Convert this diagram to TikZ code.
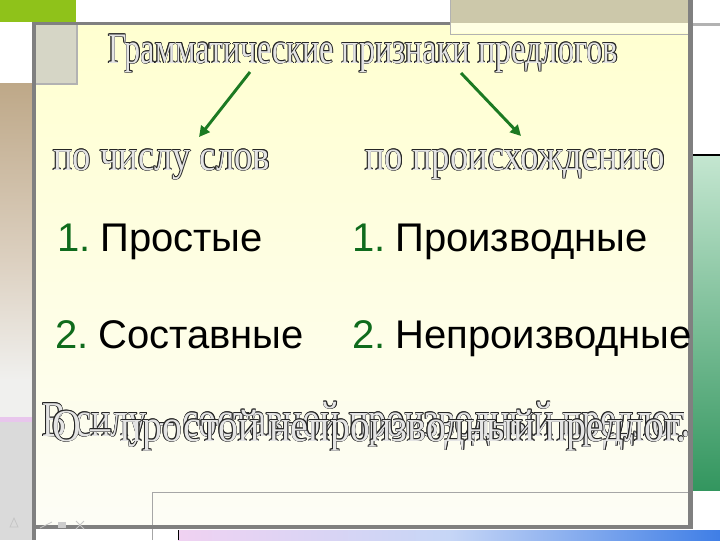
\documentclass[tikz,border=0pt]{standalone}
\usepackage{fontspec}
\setmainfont{Liberation Serif}
\newfontfamily\sansf{Liberation Sans}
\usetikzlibrary{arrows.meta}
\definecolor{panelTop}{HTML}{FFFFD0}
\definecolor{panelBot}{HTML}{FDFDF6}
\definecolor{greenbar}{HTML}{8FC21A}
\definecolor{tanbox}{HTML}{CCC8AA}
\definecolor{sq}{HTML}{D6D6C6}
\definecolor{frame}{HTML}{808080}
\definecolor{tanL}{HTML}{BEA888}
\definecolor{tanM}{HTML}{DCD0C0}
\definecolor{stripL}{HTML}{F0F0EE}
\definecolor{pinkL}{HTML}{E8C6EC}
\definecolor{grayL}{HTML}{DADADA}
\definecolor{mintTop}{HTML}{C4E6D0}
\definecolor{mintBot}{HTML}{33965F}
\definecolor{barL}{HTML}{F0D2F2}
\definecolor{barM}{HTML}{C6D6F6}
\definecolor{barR}{HTML}{3F7EE6}
\definecolor{arrowgreen}{HTML}{1C7A22}
\definecolor{numgreen}{HTML}{0F6B1C}
\definecolor{olfill}{HTML}{E4E4E4}
\newcommand{\xbox}[3]{\resizebox{#1}{#2}{\vphantom{п}\smash{#3}}}
\newcommand{\olnode}[5]{%
  \foreach \ang in {0,45,...,315}{%
    \node[oltext,text=black!85,shift={(\ang:0.42pt)}] at (#2) {\xbox{#3}{#4}{#5}};}%
  \node[oltext,text=olfill] (#1) at (#2) {\xbox{#3}{#4}{#5}};}
\tikzset{
  oltext/.style={anchor=base west,inner sep=0pt,outer sep=0pt},
  item/.style={anchor=base west,inner sep=0pt,outer sep=0pt,font=\sansf\fontsize{30pt}{36pt}\selectfont},
  arrowg/.style={draw=arrowgreen,line width=2.2pt,-{Triangle[length=8pt,width=8pt]}},
}
\begin{document}
\begin{tikzpicture}[x=0.75pt,y=-0.75pt]
\useasboundingbox (0,0) rectangle (720,540);
\fill[white] (0,0) rectangle (720,540);
% left strip
\shade[top color=tanL,bottom color=tanM] (0,83) rectangle (32,260);
\shade[top color=tanM,bottom color=stripL] (0,260) rectangle (32,380);
\fill[stripL] (0,380) rectangle (32,417);
\fill[pinkL] (0,417) rectangle (32,422);
\fill[grayL] (0,422) rectangle (32,540);
% main panel
\shade[top color=panelTop,bottom color=panelBot] (35,24) rectangle (689,526);
% small square
\fill[sq] (35,24) rectangle (76,83);
\fill[gray!60] (76,24) rectangle (78,85);
\fill[gray!60] (35,83) rectangle (78,85);
% green bar
\fill[greenbar] (0,0) rectangle (76,22);
% top line
\fill[frame] (32,22) rectangle (689,25);
% tan box
\fill[tanbox] (450,0) rectangle (688,23);
\fill[panelTop!60!white] (450,23) rectangle (688,33);
\draw[gray!60,line width=0.5pt] (450,0) -- (450,34) -- (688,34);
% left vertical line
\fill[frame] (32,22) rectangle (36,540);
% right vertical line
\fill[frame] (688,0) rectangle (693,528);
% right area
\fill[gray!60] (693,23) rectangle (720,26);
\shade[top color=mintTop,bottom color=mintBot] (693,156) rectangle (720,490);
\fill[black] (693,154) rectangle (720,156);
% bottom
\draw[gray!70,line width=0.6pt] (152,540) -- (152,492) -- (688,492);
\fill[frame] (32,525) rectangle (693,529);
\shade[left color=barL,right color=barR,middle color=barM] (178,530) rectangle (720,540);
\draw[black,line width=0.6pt] (178,530) -- (178,540);
% navigation icons (faint)
\draw[gray!45,line width=0.6pt] (10,527) -- (14,518) -- (18,527) -- cycle;
\draw[gray!45,line width=0.6pt] (40,528) -- (52,522);
\fill[gray!40] (58,522) rectangle (66,528);
\draw[gray!45,line width=0.6pt] (76,521) -- (84,529) (84,521) -- (76,529);
% headings
\olnode{title}{108,63}{382.5pt}{15pt}{Грамматические признаки предлогов}
\olnode{byNum}{53,170}{162.75pt}{15pt}{по числу слов}
\olnode{byOrig}{365,170}{225pt}{15pt}{по происхождению}
% arrows
\coordinate (aLs) at (250,72);
\coordinate (aLe) at (199,137);
\coordinate (aRs) at (461,73);
\coordinate (aRe) at (521,136);
\draw[arrowg] (aLs) -- (aLe);
\draw[arrowg] (aRs) -- (aRe);
% items
\node[item] (s1) at (57,251) {\textcolor{numgreen}{1.}\hspace{0.25em}Простые};
\node[item] (s2) at (55,348) {\textcolor{numgreen}{2.}\hspace{0.25em}Составные};
\node[item] (p1) at (352,251) {\textcolor{numgreen}{1.}\hspace{0.25em}Производные};
\node[item] (p2) at (352,348) {\textcolor{numgreen}{2.}\hspace{0.25em}Непроизводные};
% overlapping bottom sentences
\olnode{exA}{42,436}{486pt}{17.25pt}{В силу – составной производный предлог.}
\olnode{exB}{52,441}{475.5pt}{15.75pt}{О – простой непроизводный предлог.}
\end{tikzpicture}
\end{document}
